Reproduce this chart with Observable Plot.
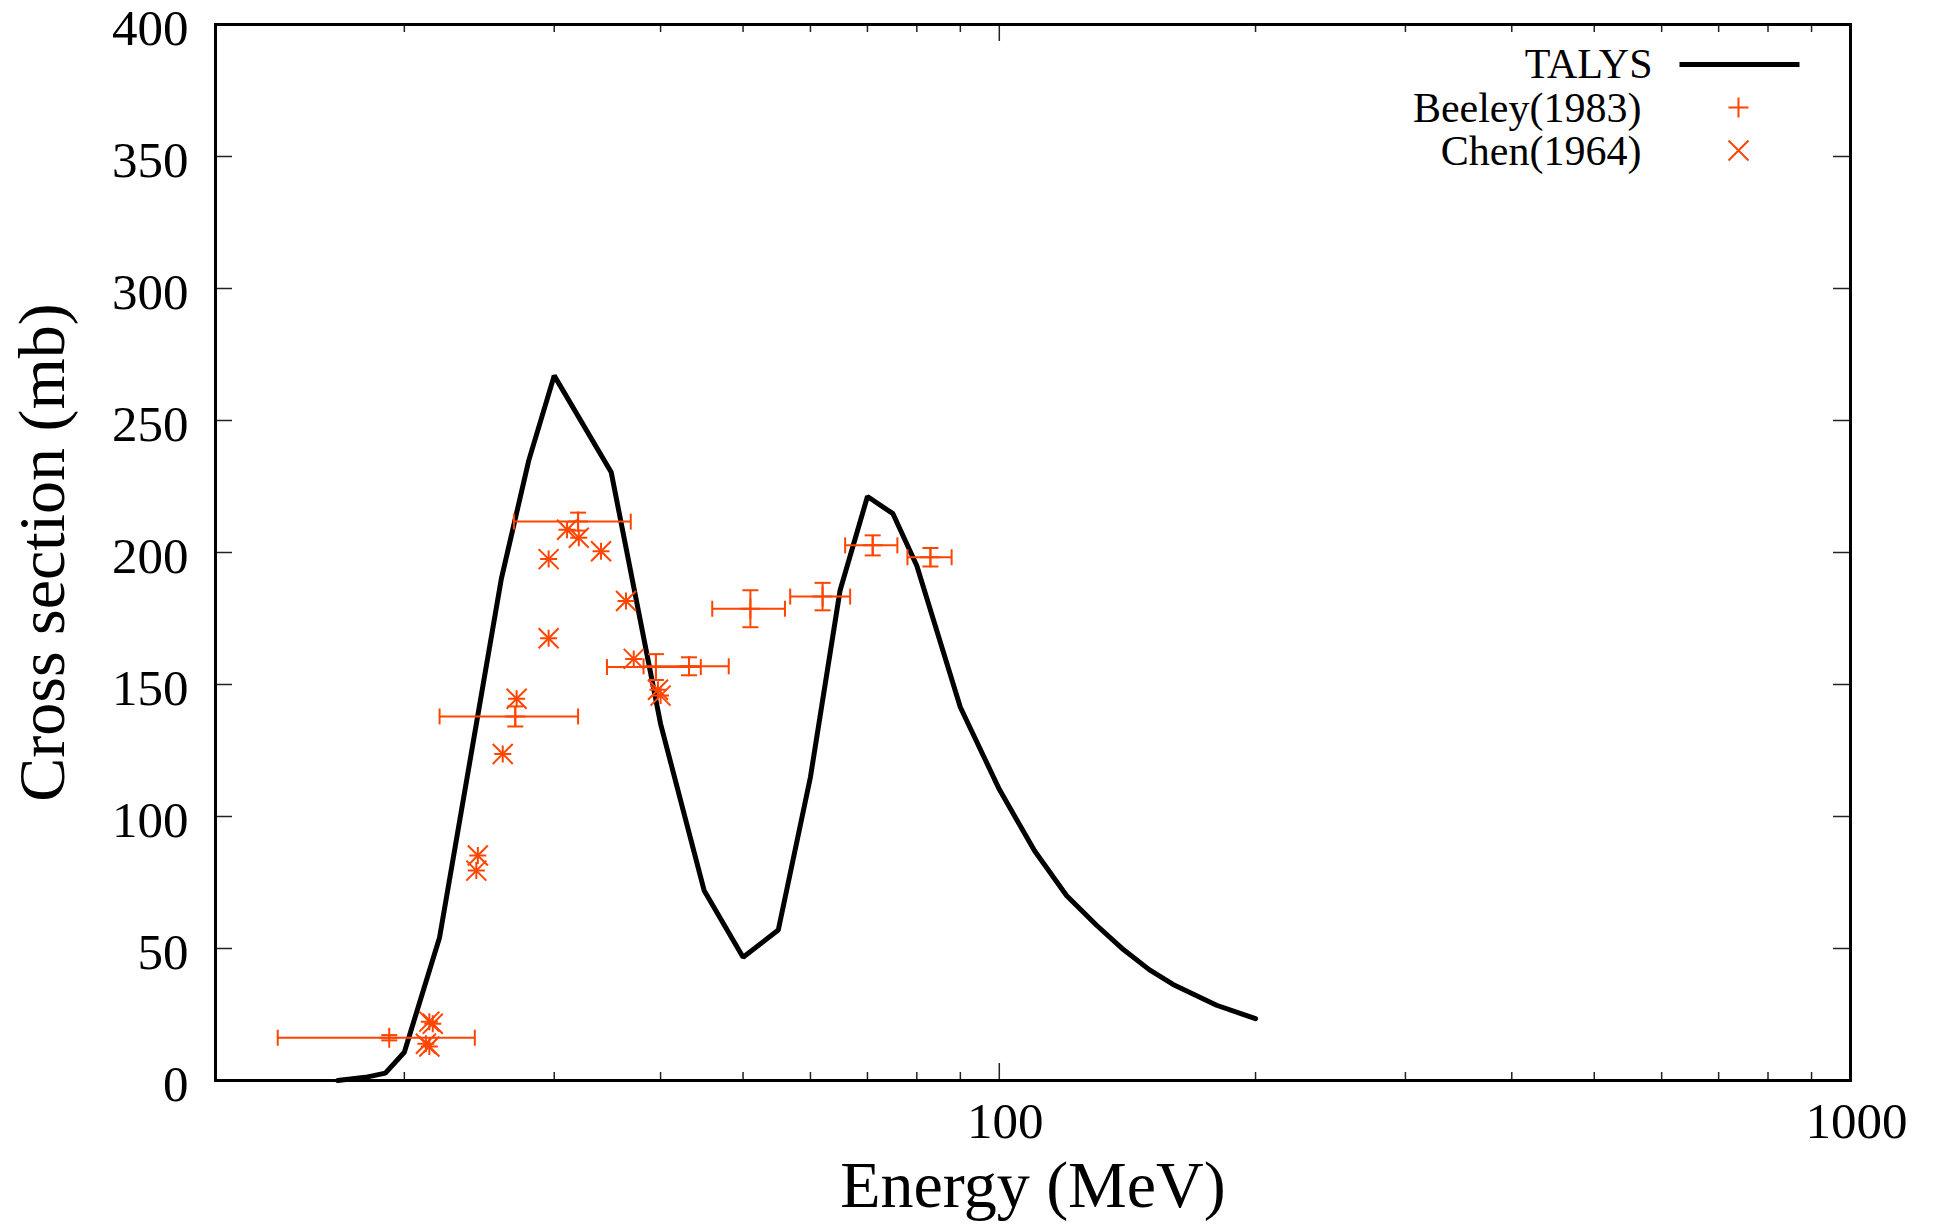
<!DOCTYPE html>
<html><head><meta charset="utf-8">
<script src="https://cdn.jsdelivr.net/npm/d3@7"></script>
<script src="https://cdn.jsdelivr.net/npm/@observablehq/plot@0.6"></script>
<style>body{margin:0;background:#fff}</style>
</head><body><div id="chart"></div>
<script>
// ---- data ----
const talysE  = [16.7,18,19,20,22,26,28,30,35,40,45,50,55,60,65,70,75,80,90,100,110,120,130,140,150,160,180,200];
const talysXS = [0,1.2,2.8,10.7,54.2,190,234.8,267,230.4,135.1,72,46.7,57,115,185.6,221.2,214.7,195,141.4,110.3,87,70,58.9,49.5,42,36.4,28.5,23.4];

const beeleyE   = [19.2,27,32,39.5,43.2,51,62,71,83];
const beeleyLo  = [14.2,22,26.9,34.6,38.2,46,56.8,65.9,78];
const beeleyHi  = [24.2,32,36.9,44.6,48.1,56,66.8,75.9,87.9];
const beeleyXS  = [16.2,137.9,211.7,156.6,156.9,178.7,183.3,202.7,198.2];
const beeleyErr = [1,3.8,3.4,4.9,3.4,7,5.2,3.8,3.5];

const chenE  = [21.4,21.6,21.2,21.4,24.4,24.3,26.1,27.1,29.55,29.55,31.06,32.06,34.05,36.43,37.2,39.72,40.0];
const chenXS = [22.3,21.5,13.9,12.9,85.2,79.5,123.7,144.6,197.5,167.5,208.6,205.6,200.5,181.6,159.7,148,145.8];

const yTicks = [0,50,100,150,200,250,300,350,400];
const xMajor = [100,1000];
const xMinor = [20,30,40,50,60,70,80,90,200,300,400,500,600,700,800,900];
const xTickLabels = ["100","1000"];

const legendLabels = ["TALYS","Beeley(1983)","Chen(1964)"];
const xTitle = "Energy (MeV)";
const yTitle = "Cross section (mb)";

// ---- tables ----
const talys = talysE.map((E,i)=>({E, xs: talysXS[i]}));
const beeley = beeleyE.map((E,i)=>({E, lo: beeleyLo[i], hi: beeleyHi[i], xs: beeleyXS[i], err: beeleyErr[i]}));
const chen = chenE.map((E,i)=>({E, xs: chenXS[i]}));

// ---- layout ----
const W = 1933, H = 1226, mL = 215, mR = 83, mT = 24, mB = 146;
const innerW = W - mL - mR, innerH = H - mT - mB;
const ORANGE = "#ff4500";

const sym = f => ({draw(ctx, size){ const r = Math.sqrt(size/Math.PI); f(ctx, r); }});
const hline = sym((c,r)=>{c.moveTo(-r,0); c.lineTo(r,0);});
const vline = sym((c,r)=>{c.moveTo(0,-r); c.lineTo(0,r);});
const plus  = sym((c,r)=>{c.moveTo(-r,0); c.lineTo(r,0); c.moveTo(0,-r); c.lineTo(0,r);});
const times = sym((c,r)=>{c.moveTo(-r,-r); c.lineTo(r,r); c.moveTo(-r,r); c.lineTo(r,-r);});

const tickStyle = {stroke:"#222", strokeWidth:1.5};
const fmt = d => xTickLabels[xMajor.indexOf(d)];

const chart = Plot.plot({
  width: W, height: H,
  marginLeft: mL, marginRight: mR, marginTop: mT, marginBottom: mB,
  x: {type: "log", domain: [12, 1000]},
  y: {domain: [0, 400]},
  style: {fontFamily: "'Liberation Serif','Times New Roman',serif", background: "#fff", color: "#000", overflow: "visible"},
  marks: [
    // ticks (inward)
    Plot.ruleY(yTicks, {y: d=>d, insetRight: innerW-17, ...tickStyle}),
    Plot.ruleY(yTicks, {y: d=>d, insetLeft: innerW-17, ...tickStyle}),
    Plot.ruleX(xMajor, {x: d=>d, insetTop: innerH-17, ...tickStyle}),
    Plot.ruleX(xMajor, {x: d=>d, insetBottom: innerH-17, ...tickStyle}),
    Plot.ruleX(xMinor, {x: d=>d, insetTop: innerH-8, ...tickStyle}),
    Plot.ruleX(xMinor, {x: d=>d, insetBottom: innerH-8, ...tickStyle}),
    // tick labels
    Plot.axisY({ticks: yTicks, tickSize: 0, tickPadding: 27, fontSize: 51, label: null, tickFormat: d=>String(d), dy: 4}),
    Plot.axisX({ticks: xMajor, tickSize: 0, tickPadding: 21, fontSize: 51, label: null, tickFormat: fmt, dx: 6}),
    // TALYS
    Plot.line(talys, {x: "E", y: "xs", stroke: "#000", strokeWidth: 5, strokeLinejoin: "miter"}),
    // Beeley error bars
    Plot.ruleY(beeley, {y: "xs", x1: "lo", x2: "hi", stroke: ORANGE, strokeWidth: 2}),
    Plot.ruleX(beeley, {x: "E", y1: d=>d.xs-d.err, y2: d=>d.xs+d.err, stroke: ORANGE, strokeWidth: 2}),
    Plot.dot(beeley, {x: "lo", y: "xs", symbol: vline, r: 8, fill: "none", stroke: ORANGE, strokeWidth: 2}),
    Plot.dot(beeley, {x: "hi", y: "xs", symbol: vline, r: 8, fill: "none", stroke: ORANGE, strokeWidth: 2}),
    Plot.dot(beeley, {x: "E", y: d=>d.xs-d.err, symbol: hline, r: 8, fill: "none", stroke: ORANGE, strokeWidth: 2}),
    Plot.dot(beeley, {x: "E", y: d=>d.xs+d.err, symbol: hline, r: 8, fill: "none", stroke: ORANGE, strokeWidth: 2}),
    Plot.dot(beeley, {x: "E", y: "xs", symbol: plus, r: 10, fill: "none", stroke: ORANGE, strokeWidth: 2}),
    // Chen
    Plot.dot(chen, {x: "E", y: "xs", symbol: times, r: 10, fill: "none", stroke: ORANGE, strokeWidth: 2}),
    Plot.dot(chen, {x: "E", y: "xs", symbol: plus, r: 8.5, fill: "none", stroke: ORANGE, strokeWidth: 2}),
    // frame
    Plot.frame({stroke: "#000", strokeWidth: 3}),
    // legend
    Plot.text([legendLabels[0]], {frameAnchor: "top-right", text: d=>d, textAnchor: "end", lineAnchor: "middle", dx: -198, dy: 40, fontSize: 42}),
    Plot.text([legendLabels[1]], {frameAnchor: "top-right", text: d=>d, textAnchor: "end", lineAnchor: "middle", dx: -209, dy: 84, fontSize: 42}),
    Plot.text([legendLabels[2]], {frameAnchor: "top-right", text: d=>d, textAnchor: "end", lineAnchor: "middle", dx: -209, dy: 127, fontSize: 42}),
    Plot.dot([0], {frameAnchor: "top-right", dx: -111, dy: 40, symbol: hline, r: 60, fill: "none", stroke: "#000", strokeWidth: 5}),
    Plot.dot([0], {frameAnchor: "top-right", dx: -112, dy: 83, symbol: plus, r: 10, fill: "none", stroke: ORANGE, strokeWidth: 2}),
    Plot.dot([0], {frameAnchor: "top-right", dx: -112, dy: 126, symbol: times, r: 10, fill: "none", stroke: ORANGE, strokeWidth: 2}),
    // axis titles
    Plot.text([xTitle], {frameAnchor: "bottom", text: d=>d, textAnchor: "middle", lineAnchor: "middle", dy: 105, fontSize: 66}),
    Plot.text([yTitle], {frameAnchor: "left", text: d=>d, textAnchor: "middle", lineAnchor: "middle", rotate: -90, dx: -173, fontSize: 66})
  ]
});
document.getElementById("chart").appendChild(chart);
</script>
</body></html>
